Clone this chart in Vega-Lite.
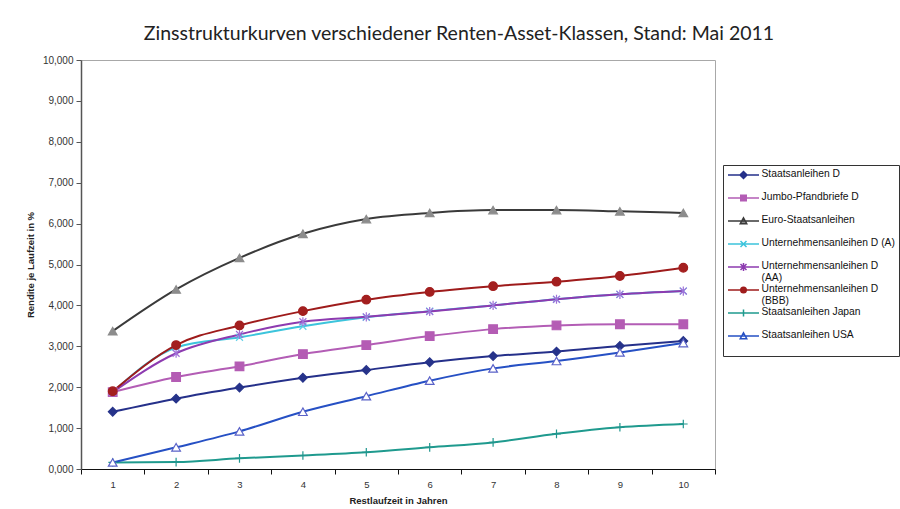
{
  "$schema": "https://vega.github.io/schema/vega-lite/v6.json",
  "width": 634,
  "height": 409,
  "autosize": {"type": "none"},
  "padding": {"left": 81, "top": 60, "right": 185, "bottom": 40},
  "background": "white",
  "title": {
    "text": "Zinsstrukturkurven verschiedener Renten-Asset-Klassen, Stand: Mai 2011",
    "font": "Lato",
    "fontSize": 19.5,
    "fontWeight": "normal",
    "color": "#222222",
    "anchor": "middle",
    "frame": "group",
    "dx": 61,
    "offset": 11
  },
  "config": {
    "font": "Liberation Sans",
    "view": {"stroke": "#a8a8a8", "strokeWidth": 1}
  },
  "data": {
    "values": [
      {"jahr": 1, "serie": "Staatsanleihen D", "rendite": 1.40},
      {"jahr": 2, "serie": "Staatsanleihen D", "rendite": 1.72},
      {"jahr": 3, "serie": "Staatsanleihen D", "rendite": 1.99},
      {"jahr": 4, "serie": "Staatsanleihen D", "rendite": 2.23},
      {"jahr": 5, "serie": "Staatsanleihen D", "rendite": 2.42},
      {"jahr": 6, "serie": "Staatsanleihen D", "rendite": 2.61},
      {"jahr": 7, "serie": "Staatsanleihen D", "rendite": 2.76},
      {"jahr": 8, "serie": "Staatsanleihen D", "rendite": 2.87},
      {"jahr": 9, "serie": "Staatsanleihen D", "rendite": 3.01},
      {"jahr": 10, "serie": "Staatsanleihen D", "rendite": 3.13},
      {"jahr": 1, "serie": "Jumbo-Pfandbriefe D", "rendite": 1.88},
      {"jahr": 2, "serie": "Jumbo-Pfandbriefe D", "rendite": 2.25},
      {"jahr": 3, "serie": "Jumbo-Pfandbriefe D", "rendite": 2.51},
      {"jahr": 4, "serie": "Jumbo-Pfandbriefe D", "rendite": 2.81},
      {"jahr": 5, "serie": "Jumbo-Pfandbriefe D", "rendite": 3.03},
      {"jahr": 6, "serie": "Jumbo-Pfandbriefe D", "rendite": 3.25},
      {"jahr": 7, "serie": "Jumbo-Pfandbriefe D", "rendite": 3.42},
      {"jahr": 8, "serie": "Jumbo-Pfandbriefe D", "rendite": 3.51},
      {"jahr": 9, "serie": "Jumbo-Pfandbriefe D", "rendite": 3.54},
      {"jahr": 10, "serie": "Jumbo-Pfandbriefe D", "rendite": 3.54},
      {"jahr": 1, "serie": "Euro-Staatsanleihen", "rendite": 3.37},
      {"jahr": 2, "serie": "Euro-Staatsanleihen", "rendite": 4.39},
      {"jahr": 3, "serie": "Euro-Staatsanleihen", "rendite": 5.16},
      {"jahr": 4, "serie": "Euro-Staatsanleihen", "rendite": 5.75},
      {"jahr": 5, "serie": "Euro-Staatsanleihen", "rendite": 6.11},
      {"jahr": 6, "serie": "Euro-Staatsanleihen", "rendite": 6.26},
      {"jahr": 7, "serie": "Euro-Staatsanleihen", "rendite": 6.33},
      {"jahr": 8, "serie": "Euro-Staatsanleihen", "rendite": 6.33},
      {"jahr": 9, "serie": "Euro-Staatsanleihen", "rendite": 6.30},
      {"jahr": 10, "serie": "Euro-Staatsanleihen", "rendite": 6.26},
      {"jahr": 1, "serie": "Unternehmensanleihen D (A)", "rendite": 1.88},
      {"jahr": 2, "serie": "Unternehmensanleihen D (A)", "rendite": 2.97},
      {"jahr": 3, "serie": "Unternehmensanleihen D (A)", "rendite": 3.22},
      {"jahr": 4, "serie": "Unternehmensanleihen D (A)", "rendite": 3.49},
      {"jahr": 5, "serie": "Unternehmensanleihen D (A)", "rendite": 3.71},
      {"jahr": 6, "serie": "Unternehmensanleihen D (A)", "rendite": 3.86},
      {"jahr": 7, "serie": "Unternehmensanleihen D (A)", "rendite": 4.00},
      {"jahr": 8, "serie": "Unternehmensanleihen D (A)", "rendite": 4.15},
      {"jahr": 9, "serie": "Unternehmensanleihen D (A)", "rendite": 4.27},
      {"jahr": 10, "serie": "Unternehmensanleihen D (A)", "rendite": 4.35},
      {"jahr": 1, "serie": "Unternehmensanleihen D (AA)", "rendite": 1.88},
      {"jahr": 2, "serie": "Unternehmensanleihen D (AA)", "rendite": 2.83},
      {"jahr": 3, "serie": "Unternehmensanleihen D (AA)", "rendite": 3.29},
      {"jahr": 4, "serie": "Unternehmensanleihen D (AA)", "rendite": 3.60},
      {"jahr": 5, "serie": "Unternehmensanleihen D (AA)", "rendite": 3.72},
      {"jahr": 6, "serie": "Unternehmensanleihen D (AA)", "rendite": 3.85},
      {"jahr": 7, "serie": "Unternehmensanleihen D (AA)", "rendite": 4.00},
      {"jahr": 8, "serie": "Unternehmensanleihen D (AA)", "rendite": 4.15},
      {"jahr": 9, "serie": "Unternehmensanleihen D (AA)", "rendite": 4.27},
      {"jahr": 10, "serie": "Unternehmensanleihen D (AA)", "rendite": 4.35},
      {"jahr": 1, "serie": "Unternehmensanleihen D (BBB)", "rendite": 1.90},
      {"jahr": 2, "serie": "Unternehmensanleihen D (BBB)", "rendite": 3.03},
      {"jahr": 3, "serie": "Unternehmensanleihen D (BBB)", "rendite": 3.51},
      {"jahr": 4, "serie": "Unternehmensanleihen D (BBB)", "rendite": 3.86},
      {"jahr": 5, "serie": "Unternehmensanleihen D (BBB)", "rendite": 4.14},
      {"jahr": 6, "serie": "Unternehmensanleihen D (BBB)", "rendite": 4.33},
      {"jahr": 7, "serie": "Unternehmensanleihen D (BBB)", "rendite": 4.47},
      {"jahr": 8, "serie": "Unternehmensanleihen D (BBB)", "rendite": 4.58},
      {"jahr": 9, "serie": "Unternehmensanleihen D (BBB)", "rendite": 4.72},
      {"jahr": 10, "serie": "Unternehmensanleihen D (BBB)", "rendite": 4.92},
      {"jahr": 1, "serie": "Staatsanleihen Japan", "rendite": 0.16},
      {"jahr": 2, "serie": "Staatsanleihen Japan", "rendite": 0.17},
      {"jahr": 3, "serie": "Staatsanleihen Japan", "rendite": 0.26},
      {"jahr": 4, "serie": "Staatsanleihen Japan", "rendite": 0.33},
      {"jahr": 5, "serie": "Staatsanleihen Japan", "rendite": 0.41},
      {"jahr": 6, "serie": "Staatsanleihen Japan", "rendite": 0.53},
      {"jahr": 7, "serie": "Staatsanleihen Japan", "rendite": 0.65},
      {"jahr": 8, "serie": "Staatsanleihen Japan", "rendite": 0.86},
      {"jahr": 9, "serie": "Staatsanleihen Japan", "rendite": 1.02},
      {"jahr": 10, "serie": "Staatsanleihen Japan", "rendite": 1.10},
      {"jahr": 1, "serie": "Staatsanleihen USA", "rendite": 0.16},
      {"jahr": 2, "serie": "Staatsanleihen USA", "rendite": 0.53},
      {"jahr": 3, "serie": "Staatsanleihen USA", "rendite": 0.92},
      {"jahr": 4, "serie": "Staatsanleihen USA", "rendite": 1.40},
      {"jahr": 5, "serie": "Staatsanleihen USA", "rendite": 1.78},
      {"jahr": 6, "serie": "Staatsanleihen USA", "rendite": 2.16},
      {"jahr": 7, "serie": "Staatsanleihen USA", "rendite": 2.46},
      {"jahr": 8, "serie": "Staatsanleihen USA", "rendite": 2.64},
      {"jahr": 9, "serie": "Staatsanleihen USA", "rendite": 2.85},
      {"jahr": 10, "serie": "Staatsanleihen USA", "rendite": 3.08}
    ]
  },
  "encoding": {
    "x": {
      "field": "jahr",
      "type": "ordinal",
      "scale": {"type": "band", "paddingInner": 0, "paddingOuter": 0},
      "axis": {
        "title": "Restlaufzeit in Jahren",
        "labelAngle": 0,
        "tickBand": "extent",
        "grid": false,
        "domainColor": "#111111",
        "tickColor": "#111111",
        "tickSize": 5,
        "labelPadding": 5,
        "labelFontSize": 9.5,
        "labelColor": "#333333",
        "titleFontSize": 9.5,
        "titleFontWeight": "bold",
        "titleColor": "#222222",
        "titlePadding": 7
      }
    },
    "y": {
      "field": "rendite",
      "type": "quantitative",
      "scale": {"domain": [0, 10], "nice": false},
      "axis": {
        "title": "Rendite je Laufzeit in %",
        "tickCount": 10,
        "grid": false,
        "labelExpr": "replace(format(datum.value, '.3f'), '.', ',')",
        "domainColor": "#555555",
        "domainWidth": 1.5,
        "tickColor": "#555555",
        "tickSize": 5,
        "labelPadding": 3,
        "labelFontSize": 10,
        "labelColor": "#333333",
        "titleFontSize": 9.5,
        "titleFontWeight": "bold",
        "titleColor": "#222222",
        "titlePadding": 7
      }
    }
  },
  "layer": [
    {
      "mark": {"type": "line", "interpolate": "monotone", "strokeWidth": 2},
      "encoding": {
        "color": {
          "field": "serie",
          "type": "nominal",
          "scale": {
            "domain": ["Staatsanleihen D", "Jumbo-Pfandbriefe D", "Euro-Staatsanleihen", "Unternehmensanleihen D (A)", "Unternehmensanleihen D (AA)", "Unternehmensanleihen D (BBB)", "Staatsanleihen Japan", "Staatsanleihen USA"],
            "range": ["#25308a", "#b35db5", "#3a3a3a", "#3cc4dc", "#8d3bb0", "#9e1b1b", "#1f9a8e", "#2650c4"]
          },
          "legend": {
            "orient": "none",
            "legendX": 642,
            "legendY": 105,
            "strokeColor": "#333333",
            "fillColor": "white",
            "padding": 4,
            "title": " ",
            "titleOrient": "bottom",
            "titleFontSize": 8,
            "titlePadding": 2,
            "symbolSize": 100,
            "symbolStrokeWidth": 1.5,
            "gridAlign": "all",
            "rowPadding": -1,
            "labelFontSize": 10.3,
            "labelColor": "#111111",
            "labelOffset": 22.5,
            "labelLimit": 200,
            "labelBaseline": "top",
            "labelExpr": "datum.label == 'Unternehmensanleihen D (AA)' ? ['Unternehmensanleihen D', '(AA)'] : datum.label == 'Unternehmensanleihen D (BBB)' ? ['Unternehmensanleihen D', '(BBB)'] : datum.label",
            "encode": {
              "labels": {"update": {"dy": {"value": -6}}},
              "symbols": {
                "update": {
                  "shape": {"signal": "'M-1,0L5.2,0' + (datum.value == 'Staatsanleihen D' ? 'M2.1,-0.7L2.8,0L2.1,0.7L1.4,0Z' : datum.value == 'Jumbo-Pfandbriefe D' ? 'M1.55,-0.55L2.65,-0.55L2.65,0.55L1.55,0.55Z' : datum.value == 'Euro-Staatsanleihen' ? 'M2.1,-0.65L2.75,0.55L1.45,0.55Z' : datum.value == 'Unternehmensanleihen D (A)' ? 'M1.5,-0.6L2.7,0.6M1.5,0.6L2.7,-0.6' : datum.value == 'Unternehmensanleihen D (AA)' ? 'M1.5,-0.6L2.7,0.6M1.5,0.6L2.7,-0.6M2.1,-0.8L2.1,0.8' : datum.value == 'Unternehmensanleihen D (BBB)' ? 'M2.65,0A0.55,0.55,0,1,1,1.55,0A0.55,0.55,0,1,1,2.65,0Z' : datum.value == 'Staatsanleihen Japan' ? 'M2.1,-0.7L2.1,0.7' : 'M2.1,-0.65L2.75,0.55L1.45,0.55Z')"},
                  "fill": {"signal": "scale('fill', datum.value)"},
                  "stroke": {"signal": "scale('color', datum.value)"},
                  "strokeWidth": {"value": 1.5},
                  "opacity": {"value": 1}
                }
              }
            }
          }
        }
      }
    },
    {
      "mark": {"type": "point", "opacity": 1, "size": 75, "strokeWidth": 1.2, "filled": true},
      "encoding": {
        "shape": {
          "field": "serie",
          "type": "nominal",
          "scale": {
            "domain": ["Staatsanleihen USA", "Staatsanleihen Japan", "Unternehmensanleihen D (BBB)", "Unternehmensanleihen D (AA)", "Unternehmensanleihen D (A)", "Euro-Staatsanleihen", "Jumbo-Pfandbriefe D", "Staatsanleihen D"],
            "range": ["triangle-up", "M0,-1L0,1M-1,0L1,0", "circle", "M-0.8,-0.8L0.8,0.8M-0.8,0.8L0.8,-0.8M0,-1.05L0,1.05", "M-0.8,-0.8L0.8,0.8M-0.8,0.8L0.8,-0.8", "triangle-up", "square", "diamond"]
          },
          "legend": null
        },
        "fill": {
          "field": "serie",
          "type": "nominal",
          "scale": {
            "domain": ["Staatsanleihen USA", "Staatsanleihen Japan", "Unternehmensanleihen D (BBB)", "Unternehmensanleihen D (AA)", "Unternehmensanleihen D (A)", "Euro-Staatsanleihen", "Jumbo-Pfandbriefe D", "Staatsanleihen D"],
            "range": ["#ffffff", "#20968e", "#a31f1f", "#a070d8", "#5fd0e8", "#8c8c8c", "#b45cb4", "#26338a"]
          },
          "legend": null
        },
        "stroke": {
          "field": "serie",
          "type": "nominal",
          "scale": {
            "domain": ["Staatsanleihen USA", "Staatsanleihen Japan", "Unternehmensanleihen D (BBB)", "Unternehmensanleihen D (AA)", "Unternehmensanleihen D (A)", "Euro-Staatsanleihen", "Jumbo-Pfandbriefe D", "Staatsanleihen D"],
            "range": ["#5a62c8", "#20968e", "#a31f1f", "#a070d8", "#5fd0e8", "#8c8c8c", "#b45cb4", "#26338a"]
          },
          "legend": null
        }
      }
    }
  ]
}
